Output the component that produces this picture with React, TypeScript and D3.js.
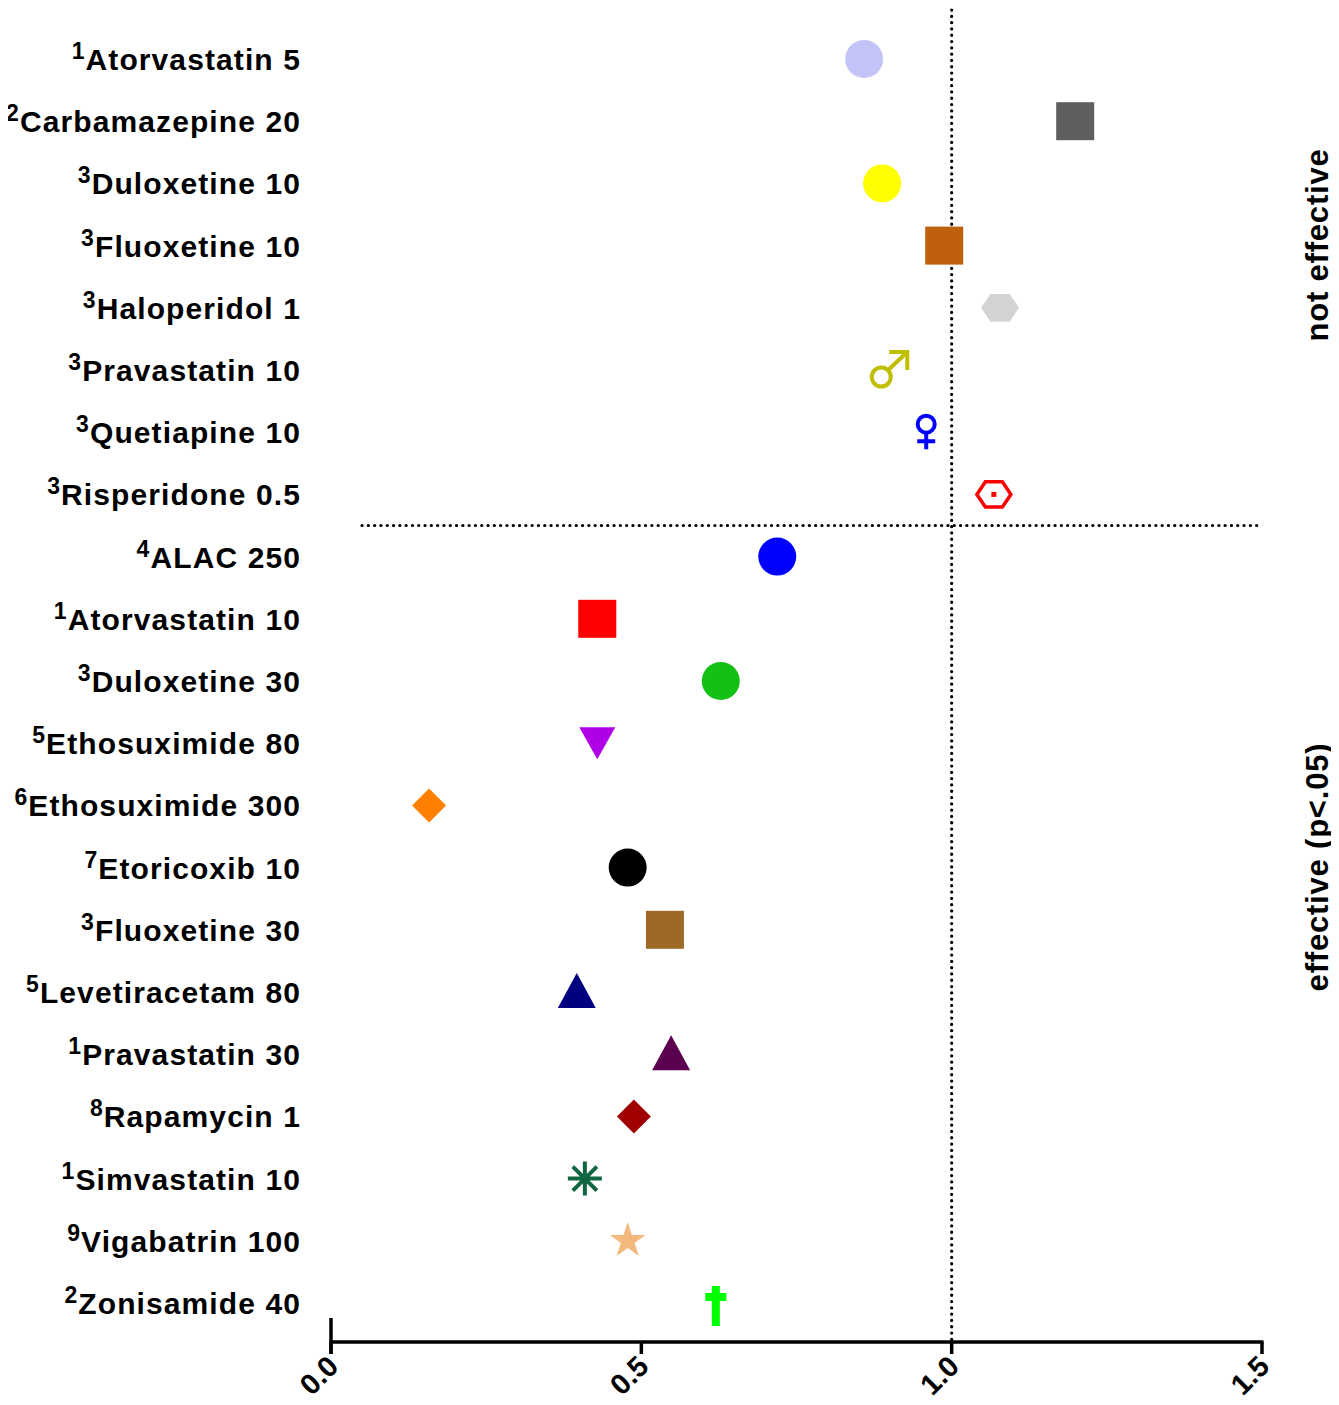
import React, { useEffect, useRef } from "react"
import * as d3 from "d3"

const names = [
  "Atorvastatin 5", "Carbamazepine 20", "Duloxetine 10", "Fluoxetine 10", "Haloperidol 1",
  "Pravastatin 10", "Quetiapine 10", "Risperidone 0.5", "ALAC 250", "Atorvastatin 10",
  "Duloxetine 30", "Ethosuximide 80", "Ethosuximide 300", "Etoricoxib 10", "Fluoxetine 30",
  "Levetiracetam 80", "Pravastatin 30", "Rapamycin 1", "Simvastatin 10", "Vigabatrin 100",
  "Zonisamide 40",
]
const refs = ["1", "2", "3", "3", "3", "3", "3", "3", "4", "1", "3", "5", "6", "7", "3", "5", "1", "8", "1", "9", "2"]
const values = [0.859, 1.199, 0.888, 0.988, 1.078, 0.893, 0.959, 1.068, 0.719, 0.429, 0.628,
  0.429, 0.158, 0.478, 0.538, 0.396, 0.548, 0.488, 0.409, 0.478, 0.620]
const shapes = ["circle", "square", "circle", "square", "hexagon", "male", "female", "hexring",
  "circle", "square", "circle", "triDown", "diamond", "circle", "square", "triUp", "triUp",
  "diamond", "asterisk", "star", "dagger"]
const colors = ["#c3c3f7", "#5f5f5f", "#ffff00", "#c0600c", "#d3d3d3", "#bfbf00", "#0000ff",
  "#ff0000", "#0000ff", "#ff0000", "#13c013", "#b000e8", "#ff8000", "#000000", "#9c6a26",
  "#000080", "#5c0050", "#a00000", "#0f6640", "#f3b87c", "#00ff00"]
const ticks = [0, 0.5, 1.0, 1.5]
const cutoff = 1.0

export default function App() {
  const ref = useRef<SVGSVGElement>(null)

  useEffect(() => {
    const svg = d3.select(ref.current)
    svg.selectAll("*").remove()
    const font = "'Liberation Sans', Arial, sans-serif"

    const x = d3.scaleLinear().domain([0, 1.5]).range([331, 1262])
    const y = d3.scalePoint<number>()
      .domain(d3.range(names.length))
      .range([59, 1303])
    const axisY = 1342

    // dotted reference lines
    svg.append("line")
      .attr("x1", x(cutoff)).attr("x2", x(cutoff))
      .attr("y1", 10).attr("y2", axisY)
      .attr("stroke", "#000").attr("stroke-width", 3.2)
      .attr("stroke-linecap", "round")
      .attr("stroke-dasharray", "0.1,6.2")
    const sepY = (y(7)! + y(8)!) / 2
    svg.append("line")
      .attr("x1", 362).attr("x2", 1260)
      .attr("y1", sepY).attr("y2", sepY)
      .attr("stroke", "#000").attr("stroke-width", 3.2)
      .attr("stroke-linecap", "round")
      .attr("stroke-dasharray", "0.1,6.2")

    // labels
    const lab = svg.append("g")
      .attr("font-family", font).attr("font-weight", "bold")
      .attr("text-anchor", "end").attr("fill", "#000")
    names.forEach((n, i) => {
      const t = lab.append("text").attr("x", 301).attr("y", y(i)! + 11)
        .attr("font-size", 30).attr("letter-spacing", 1.1)
      t.append("tspan").attr("font-size", 23).attr("dy", -11).text(refs[i])
      t.append("tspan").attr("dy", 11).text(n)
    })

    // markers
    const g = svg.append("g")
    values.forEach((v, i) => {
      const cx = x(v)
      const cy = y(i)!
      const c = colors[i]
      const m = g.append("g").attr("transform", `translate(${cx},${cy})`)
      switch (shapes[i]) {
        case "circle":
          m.append("circle").attr("r", 19).attr("fill", c)
          break
        case "square":
          m.append("rect").attr("x", -19).attr("y", -19).attr("width", 38).attr("height", 38).attr("fill", c)
          break
        case "hexagon": {
          const pts = d3.range(6).map(k => [19 * Math.cos(k * Math.PI / 3), 16 * Math.sin(k * Math.PI / 3)])
          m.append("polygon").attr("points", pts.map(p => p.join(",")).join(" ")).attr("fill", c)
          break
        }
        case "hexring": {
          const pts = d3.range(6).map(k => [17 * Math.cos(k * Math.PI / 3), 14.5 * Math.sin(k * Math.PI / 3)])
          m.append("polygon").attr("points", pts.map(p => p.join(",")).join(" "))
            .attr("fill", "none").attr("stroke", c).attr("stroke-width", 3.5)
          m.append("rect").attr("x", -2.5).attr("y", -2.5).attr("width", 5).attr("height", 5).attr("fill", c)
          break
        }
        case "male":
          m.append("circle").attr("cx", -4).attr("cy", 7).attr("r", 9.5)
            .attr("fill", "none").attr("stroke", c).attr("stroke-width", 4)
          m.append("path").attr("d", "M3,0 L22,-18 M4,-18 L22,-18 L22,0")
            .attr("fill", "none").attr("stroke", c).attr("stroke-width", 4)
          break
        case "female":
          m.append("circle").attr("cx", 0).attr("cy", -8).attr("r", 8.5)
            .attr("fill", "none").attr("stroke", c).attr("stroke-width", 4)
          m.append("path").attr("d", "M0,1 L0,17 M-9,9 L9,9")
            .attr("fill", "none").attr("stroke", c).attr("stroke-width", 4)
          break
        case "triUp":
          m.append("path").attr("d", "M0,-19 L19,16 L-19,16 Z").attr("fill", c)
          break
        case "triDown":
          m.append("path").attr("d", "M-18,-16 L18,-16 L0,16 Z").attr("fill", c)
          break
        case "diamond":
          m.append("path").attr("d", "M0,-17 L17,0 L0,17 L-17,0 Z").attr("fill", c)
          break
        case "asterisk":
          m.append("path").attr("d", d3.range(4).map(k => {
            const a = k * Math.PI / 4
            const dx = 17 * Math.cos(a), dy = 17 * Math.sin(a)
            return `M${-dx},${-dy} L${dx},${dy}`
          }).join(" ")).attr("stroke", c).attr("stroke-width", 4)
          break
        case "star":
          m.append("path").attr("d", d3.symbol().type(d3.symbolStar).size(400)()).attr("fill", c)
          break
        case "dagger":
          m.append("rect").attr("x", -4).attr("y", -17).attr("width", 8).attr("height", 40).attr("fill", c)
          m.append("rect").attr("x", -10.5).attr("y", -10).attr("width", 21).attr("height", 8).attr("fill", c)
          break
      }
    })

    // x axis
    const ax = svg.append("g")
    ax.append("line").attr("x1", x(0)).attr("x2", x(1.5) + 1.5).attr("y1", axisY).attr("y2", axisY)
      .attr("stroke", "#000").attr("stroke-width", 3.5)
    ax.append("line").attr("x1", x(0)).attr("x2", x(0)).attr("y1", axisY - 24).attr("y2", axisY + 12)
      .attr("stroke", "#000").attr("stroke-width", 3.5)
    ticks.forEach(t => {
      ax.append("line").attr("x1", x(t)).attr("x2", x(t)).attr("y1", axisY).attr("y2", axisY + 12)
        .attr("stroke", "#000").attr("stroke-width", 3.5)
      ax.append("text")
        .attr("transform", `translate(${x(t) + 2},${axisY + 19}) rotate(-45)`)
        .attr("text-anchor", "end").attr("font-family", font).attr("font-weight", "bold")
        .attr("font-size", 29).attr("dy", "0.35em")
        .text(d3.format(".1f")(t))
    })

    // group labels
    const groups = [
      { text: "not effective", mid: 245 },
      { text: "effective (p<.05)", mid: 867 },
    ]
    groups.forEach(gr => {
      svg.append("text")
        .attr("transform", `translate(1328,${gr.mid}) rotate(-90)`)
        .attr("text-anchor", "middle").attr("font-family", font).attr("font-weight", "bold")
        .attr("font-size", 31).attr("letter-spacing", 0.8).text(gr.text)
    })
  }, [])

  return <svg ref={ref} width={1339} height={1405} style={{ display: "block", marginTop: -8, marginLeft: -8 }} />
}
